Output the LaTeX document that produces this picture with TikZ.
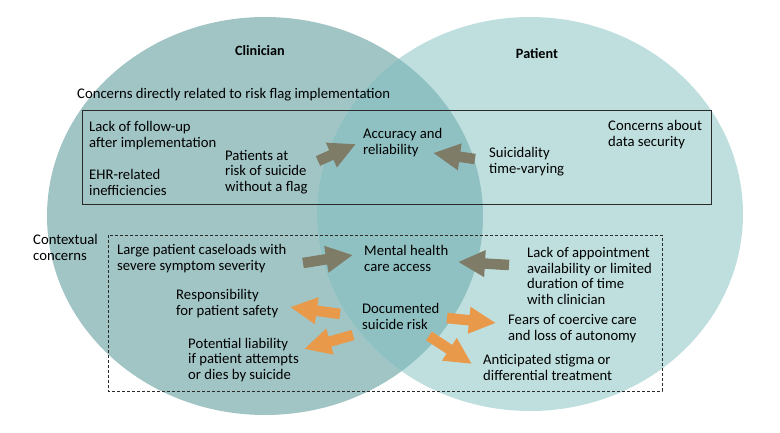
\documentclass[tikz,border=0pt]{standalone}
\usepackage{fontspec}
\setmainfont{Carlito}
\usetikzlibrary{arrows.meta}
\definecolor{ClinicianTeal}{HTML}{A1C4C5}
\definecolor{PatientTeal}{HTML}{BFDFDF}
\definecolor{OverlapTeal}{HTML}{8FC0C2}
\definecolor{ArrowOlive}{HTML}{7E7B66}
\definecolor{ArrowOrange}{HTML}{E9994A}
\definecolor{FrameDark}{HTML}{2A2A2A}

\begin{document}
\begin{tikzpicture}[
    x=1pt, y=-1pt,
    font=\fontsize{14.7}{15.5}\selectfont,
    txt/.style={anchor=base west, align=left, inner sep=0pt},
    heading/.style={anchor=base, inner sep=0pt, font=\fontsize{14.2}{15.5}\selectfont\bfseries},
    grayarrow/.style={-{Triangle[length=27pt,width=25pt]}, line width=10.5pt, ArrowOlive},
    orangearrow/.style={-{Triangle[length=27pt,width=25pt]}, line width=10.5pt, ArrowOrange}
  ]
    \useasboundingbox (0,0) rectangle (780,432);

    % Circles
    \fill[ClinicianTeal] (265,216) ellipse [x radius=218, y radius=199];
    \fill[PatientTeal] (530,214) ellipse [x radius=213, y radius=197];
    \begin{scope}
      \clip (265,216) ellipse [x radius=218, y radius=199];
      \fill[OverlapTeal] (530,214) ellipse [x radius=213, y radius=197];
    \end{scope}

    % Frames
    \draw[FrameDark, line width=0.9pt] (82,110) rectangle (711,204);
    \draw[FrameDark, line width=0.8pt, dash pattern=on 3pt off 2pt] (108,235) rectangle (662,391);

    % Nodes (placed at the baseline of their last line)
    \node (clin) [heading] at (260,55) {Clinician};
    \node (pat) [heading] at (537,58) {Patient};
    \node (direct) [txt] at (77,98) {Concerns directly related to risk flag implementation};
    \node (followup) [txt] at (89,147) {Lack of follow-up\\after implementation};
    \node (ehr) [txt] at (89,195) {EHR-related\\inefficiencies};
    \node (noflag) [txt] at (225,191) {Patients at\\risk of suicide\\without a flag};
    \node (accuracy) [txt] at (363,154) {Accuracy and\\reliability};
    \node (varying) [txt] at (489,173) {Suicidality\\time-varying};
    \node (security) [txt] at (608,146) {Concerns about\\data security};
    \node (context) [txt] at (33,260) {Contextual\\concerns};
    \node (caseload) [txt] at (117,270) {Large patient caseloads with\\severe symptom severity};
    \node (access) [txt] at (364,271) {Mental health\\care access};
    \node (appoint) [txt] at (527,304) {Lack of appointment\\availability or limited\\duration of time\\with clinician};
    \node (safety) [txt] at (176,315) {Responsibility\\for patient safety};
    \node (documented) [txt] at (362,329) {Documented\\suicide risk};
    \node (liability) [txt] at (188,379) {Potential liability\\if patient attempts\\or dies by suicide};
    \node (coercive) [txt] at (508,340) {Fears of coercive care\\and loss of autonomy};
    \node (stigma) [txt] at (483,380) {Anticipated stigma or\\differential treatment};

    % Arrow ends
    \coordinate (a1) at (318,161); \coordinate (b1) at (356,144);
    \coordinate (a2) at (475,159); \coordinate (b2) at (433,153);
    \coordinate (a3) at (303,263); \coordinate (b3) at (353,255);
    \coordinate (a4) at (509,265); \coordinate (b4) at (458,262);
    \coordinate (a5) at (340,314); \coordinate (b5) at (290,307);
    \coordinate (a6) at (353,335); \coordinate (b6) at (304,349);
    \coordinate (a7) at (447,318); \coordinate (b7) at (496,323);
    \coordinate (a8) at (429,336); \coordinate (b8) at (472,364);

    % Arrows
    \draw[grayarrow] (a1) -- (b1);
    \draw[grayarrow] (a2) -- (b2);
    \draw[grayarrow] (a3) -- (b3);
    \draw[grayarrow] (a4) -- (b4);
    \draw[orangearrow] (a5) -- (b5);
    \draw[orangearrow] (a6) -- (b6);
    \draw[orangearrow] (a7) -- (b7);
    \draw[orangearrow] (a8) -- (b8);
  \end{tikzpicture}
\end{document}
